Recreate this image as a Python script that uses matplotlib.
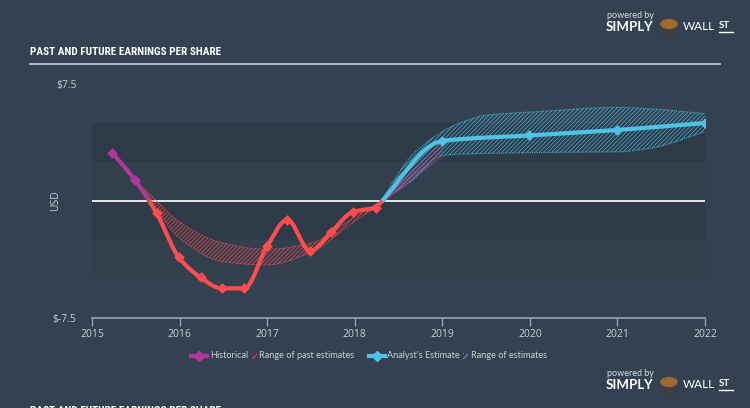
import numpy as np
import matplotlib
matplotlib.use("Agg")
import matplotlib.pyplot as plt
from matplotlib import font_manager
from matplotlib.lines import Line2D
from matplotlib.patches import Rectangle, Circle

# ---- data ----
hist_x = [2015.23, 2015.49, 2015.74, 2015.99, 2016.24, 2016.48, 2016.74,
          2017.0, 2017.23, 2017.49, 2017.73, 2017.98, 2018.24]
hist_y = [3.1, 1.35, -0.8, -3.6, -4.9, -5.6, -5.6,
          -2.9, -1.2, -3.2, -2.0, -0.7, -0.45]

fc_x = [2018.24, 2019.0, 2019.99, 2020.99, 2022.0]
fc_y = [-0.45, 3.85, 4.2, 4.55, 5.0]

past_x = [2015.49, 2015.74, 2016.0, 2016.5, 2017.0, 2017.5, 2018.0, 2018.3]
past_hi = [1.35, 0.0, -1.35, -2.7, -3.1, -2.7, -1.0, 0.0]
past_lo = [1.35, -0.6, -2.4, -3.9, -4.1, -3.3, -1.3, -0.2]

fr_x = [2018.3, 2018.65, 2019.0, 2019.2, 2019.5, 2020.0, 2021.0, 2021.4, 2022.0]
fr_hi = [0.0, 2.9, 4.45, 5.0, 5.5, 5.7, 6.0, 5.9, 5.6]
fr_lo = [0.0, 1.3, 2.9, 3.0, 3.05, 3.1, 3.15, 3.4, 4.45]

fan_end = [2.9, 3.2, 3.5, 3.8]

years = [2015, 2016, 2017, 2018, 2019, 2020, 2021, 2022]

BG = "#334150"
BAND = "#2e3a48"
BAND2 = "#323f4d"
RED = "#ff4c4c"
PURPLE = "#b5359f"
CYAN = "#4fc3e6"
TXT = "#c9cfd6"

W, H = 750, 408

TITLE = "PAST AND FUTURE EARNINGS PER SHARE"


def pchip(x, y, n=40):
    # monotone cubic, used only to draw a smooth line through the read points
    x = np.asarray(x, float)
    y = np.asarray(y, float)
    h = np.diff(x)
    d = np.diff(y) / h
    m = np.zeros_like(y)
    for k in range(1, len(y) - 1):
        if d[k - 1] * d[k] > 0:
            w1 = 2 * h[k] + h[k - 1]
            w2 = h[k] + 2 * h[k - 1]
            m[k] = (w1 + w2) / (w1 / d[k - 1] + w2 / d[k])
    m[0] = d[0]
    m[-1] = d[-1]
    xs, ys = [], []
    for k in range(len(h)):
        t = np.linspace(0, 1, n)
        h00 = 2 * t**3 - 3 * t**2 + 1
        h10 = t**3 - 2 * t**2 + t
        h01 = -2 * t**3 + 3 * t**2
        h11 = t**3 - t**2
        xs.append(x[k] + t * h[k])
        ys.append(h00 * y[k] + h10 * h[k] * m[k] + h01 * y[k + 1] + h11 * h[k] * m[k + 1])
    return np.concatenate(xs), np.concatenate(ys)


def px(x, y):
    return x / W, 1 - y / H


def narrow_font():
    # pick a condensed face if one is installed, else a fairly narrow one
    faces = font_manager.fontManager.ttflist
    for name in ["Liberation Sans Narrow", "Roboto Condensed", "Open Sans Condensed"]:
        if any(f.name == name for f in faces):
            return name, "normal"
    if any(f.name == "DejaVu Sans" and f.stretch == "condensed" for f in faces):
        return "DejaVu Sans", "condensed"
    return "Roboto", "normal"


fig = plt.figure(figsize=(7.5, 4.08), dpi=100, facecolor=BG)
ax = fig.add_axes([92 / W, (H - 318) / H, 613 / W, 234 / H])
ax.set_facecolor(BG)
ax.set_xlim(2015, 2022)
ax.set_ylim(-7.5, 7.5)

# horizontal bands
for lo, hi, c in [(2.5, 5, BAND), (0, 2.5, BAND2), (-2.5, 0, BAND), (-5, -2.5, BAND2)]:
    ax.axhspan(lo, hi, color=c, lw=0, zorder=0)

ax.axhline(0, color="#e6e9ec", lw=1.4, zorder=2)

plt.rcParams["hatch.linewidth"] = 0.6

# range of past estimates
sx, shi = pchip(past_x, past_hi)
_, slo = pchip(past_x, past_lo)
ax.fill_between(sx, slo, shi, facecolor="none", edgecolor=RED, hatch="////////",
                lw=0, alpha=0.8, zorder=3)
ax.plot(sx, shi, color=RED, lw=0.5, alpha=0.6, zorder=3)
ax.plot(sx, slo, color=RED, lw=0.5, alpha=0.6, zorder=3)

# range of estimates
fx, fhi = pchip(fr_x, fr_hi)
_, flo = pchip(fr_x, fr_lo)
ax.fill_between(fx, flo, fhi, facecolor="none", edgecolor=CYAN, hatch="////////",
                lw=0, alpha=0.75, zorder=3)
ax.plot(fx, fhi, color=CYAN, lw=0.8, ls=(0, (1, 1)), alpha=0.8, zorder=3)
ax.plot(fx, flo, color=CYAN, lw=0.8, ls=(0, (1, 1)), alpha=0.8, zorder=3)

# fan of past estimate lines
for v in fan_end:
    ax.plot([fc_x[0], 2019.0], [fc_y[0], v], color="#c2408f", lw=0.6, alpha=0.7, zorder=3)

# historical line, coloured by sign
hx, hy = pchip(hist_x, hist_y)
ax.plot(hx, np.where(hy >= 0, hy, np.nan), color=PURPLE, lw=3, zorder=5,
        solid_capstyle="round")
ax.plot(hx, np.where(hy <= 0, hy, np.nan), color=RED, lw=3, zorder=5,
        solid_capstyle="round")
hist_arr = np.array(hist_y)
ax.scatter(np.array(hist_x)[hist_arr > 0], hist_arr[hist_arr > 0], marker="D", s=30,
           color=PURPLE, zorder=6, lw=0)
ax.scatter(np.array(hist_x)[hist_arr < 0], hist_arr[hist_arr < 0], marker="D", s=30,
           color=RED, zorder=6, lw=0)

# analyst estimate line
ex, ey = pchip(fc_x, fc_y)
ax.plot(ex, np.where(ey >= 0, ey, np.nan), color=CYAN, lw=3, zorder=5)
ax.plot(ex, np.where(ey <= 0, ey, np.nan), color=RED, lw=3, zorder=5)
ax.scatter(fc_x[1:], fc_y[1:], marker="D", s=30, color=CYAN, zorder=6, lw=0)

# axes styling
for s in ["top", "right", "left"]:
    ax.spines[s].set_visible(False)
ax.spines["bottom"].set_color("#9aa4ae")
ax.spines["bottom"].set_linewidth(1.2)
ax.set_xticks(years)
ax.set_xticklabels([str(y) for y in years])
ax.tick_params(axis="x", direction="out", length=6, width=1, color="#9aa4ae",
               labelcolor=TXT, labelsize=7.5, pad=2)
ax.set_yticks([-7.5, 7.5])
ax.set_yticklabels(["$-7.5", "$7.5"])
ax.tick_params(axis="y", length=0, labelcolor=TXT, labelsize=7.5, pad=11)
for lab in ax.get_xticklabels() + ax.get_yticklabels():
    lab.set_family(["Open Sans", "DejaVu Sans"])
ax.set_ylabel("USD", color=TXT, fontsize=7.5, family=["Open Sans", "DejaVu Sans"])
ax.yaxis.set_label_coords(-31 / 613, 0.5)

# title and rule
tname, tstretch = narrow_font()
renderer = fig.canvas.get_renderer()


def title_text(y, target_w=192):
    t = fig.text(*px(30, y), TITLE, color="white", fontsize=10, fontweight="bold",
                 family=[tname, "DejaVu Sans"], fontstretch=tstretch, va="center", ha="left")
    w = t.get_window_extent(renderer).width
    t.set_fontsize(10 * target_w / w)
    return t


title_text(52)
fig.add_artist(Line2D([30 / W, 720 / W], [1 - 63.5 / H] * 2, color="#b8c2cc", lw=1.3))

# cut-off title at the bottom of the image
title_text(411)


def logo(y0):
    fig.text(*px(607, y0 - 12), "powered by", color="#d8dde2", fontsize=6.5,
             family=["Lato", "DejaVu Sans"], va="center")
    fig.text(*px(606, y0), "SIMPLY", color="white", fontsize=9.5, fontweight="bold",
             family=["Lato", "DejaVu Sans"], va="center")
    fig.add_artist(Circle(px(669, y0 - 3), 8 / W, transform=fig.transFigure,
                          color="#a06a2c", zorder=5))
    fig.add_artist(Circle(px(669, y0 + 7), 7 / W, transform=fig.transFigure,
                          color="#3b3f44", zorder=4))
    fig.text(*px(683, y0), "WALL", color="white", fontsize=8.5,
             family=["Lato", "DejaVu Sans"], va="center")
    fig.text(*px(719, y0 - 1), "ST", color="white", fontsize=7, fontweight="bold",
             family=["Lato", "DejaVu Sans"], va="center")
    fig.add_artist(Line2D([719 / W, 733 / W], [1 - (y0 + 5) / H] * 2, color="white", lw=1))


logo(27)
logo(385)

# legend
ly = 356


def leg_marker(x, c):
    fig.add_artist(Line2D([(x - 8) / W, (x + 8) / W], [1 - ly / H] * 2, color=c, lw=3))
    fig.add_artist(Line2D([x / W], [1 - ly / H], color=c, marker="D", ms=5, lw=0))


def leg_hatch(x, c):
    fig.add_artist(Rectangle(px(x, ly + 3), 5 / W, 6 / H, transform=fig.transFigure,
                             facecolor="none", edgecolor=c, hatch="//////", lw=0))


leg_font = dict(color=TXT, fontsize=6.6, va="center", family=["Lato", "DejaVu Sans"])
leg_marker(199, PURPLE)
fig.text(*px(210, ly), "Historical", **leg_font)
leg_hatch(252, RED)
fig.text(*px(259, ly), "Range of past estimates", **leg_font)
leg_marker(377, CYAN)
fig.text(*px(387, ly), "Analyst's Estimate", **leg_font)
leg_hatch(463, CYAN)
fig.text(*px(471, ly), "Range of estimates", **leg_font)

fig.savefig("out.png", dpi=100, facecolor=BG)
